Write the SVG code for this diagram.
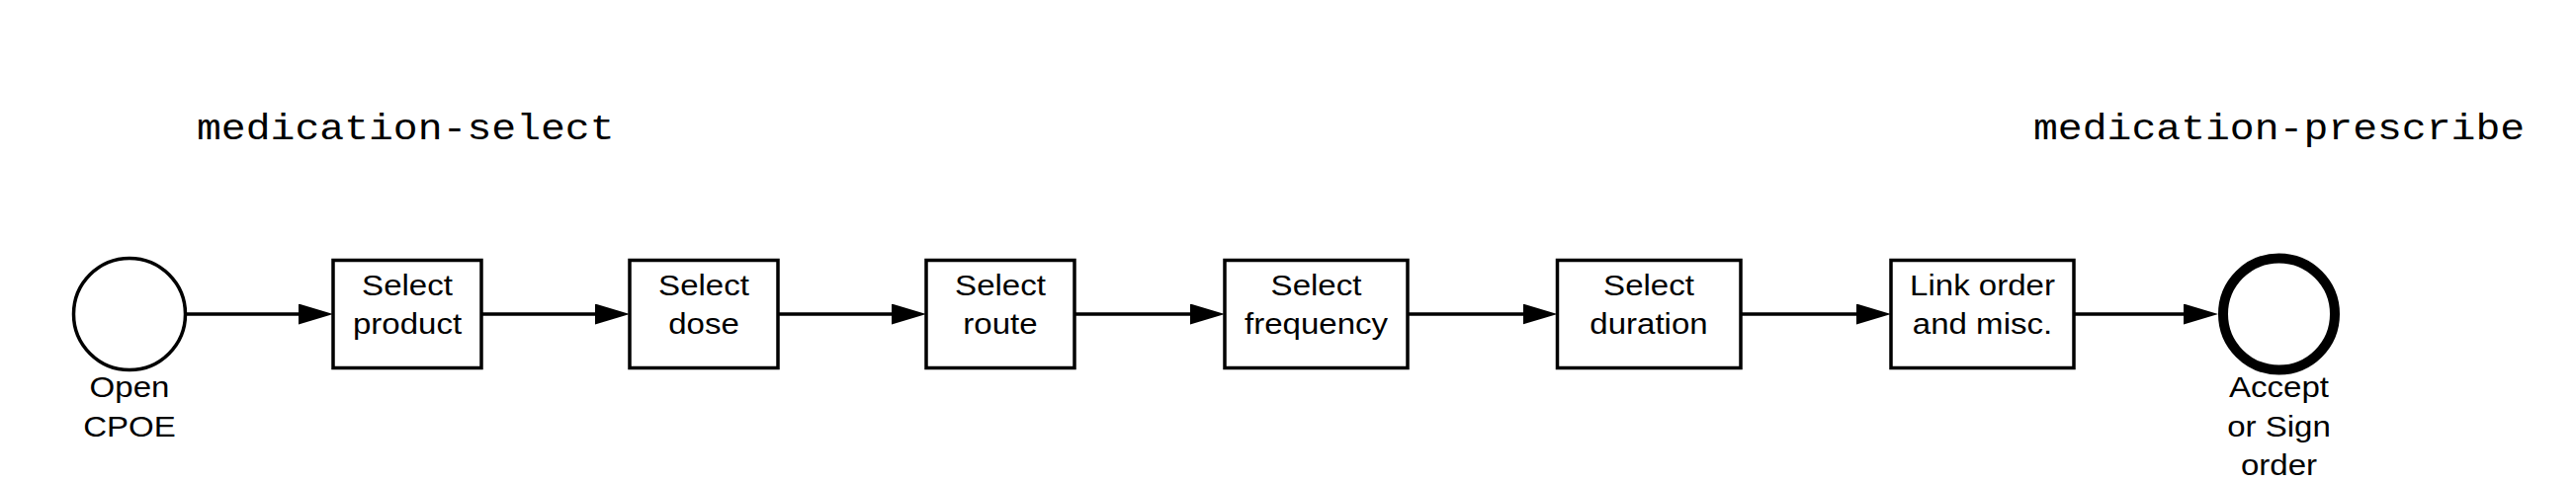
<svg xmlns="http://www.w3.org/2000/svg" width="2606" height="488" viewBox="0 0 2606 488">
<style>
.box{fill:#fff;stroke:#000;stroke-width:3.5}
.ev{fill:#fff;stroke:#000;stroke-width:3.5}
.end{fill:#fff;stroke:#000;stroke-width:10}
.lbl{font-family:"Liberation Sans",Arial,sans-serif;font-size:29.5px;fill:#000;text-anchor:middle}
.ttl{font-family:"Liberation Mono","Courier New",monospace;font-size:37px;fill:#000}
.edge{stroke:#000;stroke-width:3.5;fill:none;marker-end:url(#ah)}
</style>
<defs>
<marker id="ah" markerUnits="userSpaceOnUse" markerWidth="36" markerHeight="22" refX="27" refY="10.5" orient="auto">
<path d="M0,0 L35,10.5 L0,21 Z" fill="#000"/>
</marker>
</defs>
<rect width="2606" height="488" fill="#fff"/>
<g id="titles">
<text class="ttl" transform="translate(199 0) scale(1.12 1)" x="0" y="141">medication-select</text>
<text class="ttl" transform="translate(2057 0) scale(1.12 1)" x="0" y="141">medication-prescribe</text>
</g>
<g id="connectors">
<line class="edge" x1="187" y1="318" x2="329" y2="318"/>
<line class="edge" x1="487" y1="318" x2="629" y2="318"/>
<line class="edge" x1="787" y1="318" x2="929" y2="318"/>
<line class="edge" x1="1087" y1="318" x2="1231" y2="318"/>
<line class="edge" x1="1424" y1="318" x2="1567.5" y2="318"/>
<line class="edge" x1="1761" y1="318" x2="1905" y2="318"/>
<line class="edge" x1="2098" y1="318" x2="2236" y2="318"/>
</g>
<g id="open-cpoe">
<circle class="ev" cx="131" cy="318" r="56.5"/>
<text class="lbl" transform="translate(131 0) scale(1.12 1)" x="0" y="402.5">Open</text>
<text class="lbl" transform="translate(131 0) scale(1.12 1)" x="0" y="442.5">CPOE</text>
</g>
<g id="select-product">
<rect class="box" x="337" y="263.5" width="150" height="109"/>
<text class="lbl" transform="translate(412 0) scale(1.12 1)" x="0" y="299.5">Select</text>
<text class="lbl" transform="translate(412 0) scale(1.12 1)" x="0" y="338.5">product</text>
</g>
<g id="select-dose">
<rect class="box" x="637" y="263.5" width="150" height="109"/>
<text class="lbl" transform="translate(712 0) scale(1.12 1)" x="0" y="299.5">Select</text>
<text class="lbl" transform="translate(712 0) scale(1.12 1)" x="0" y="338.5">dose</text>
</g>
<g id="select-route">
<rect class="box" x="937" y="263.5" width="150" height="109"/>
<text class="lbl" transform="translate(1012 0) scale(1.12 1)" x="0" y="299.5">Select</text>
<text class="lbl" transform="translate(1012 0) scale(1.12 1)" x="0" y="338.5">route</text>
</g>
<g id="select-frequency">
<rect class="box" x="1239" y="263.5" width="185" height="109"/>
<text class="lbl" transform="translate(1331.5 0) scale(1.12 1)" x="0" y="299.5">Select</text>
<text class="lbl" transform="translate(1331.5 0) scale(1.12 1)" x="0" y="338.5">frequency</text>
</g>
<g id="select-duration">
<rect class="box" x="1575.5" y="263.5" width="185.5" height="109"/>
<text class="lbl" transform="translate(1668 0) scale(1.12 1)" x="0" y="299.5">Select</text>
<text class="lbl" transform="translate(1668 0) scale(1.12 1)" x="0" y="338.5">duration</text>
</g>
<g id="link-order">
<rect class="box" x="1913" y="263.5" width="185" height="109"/>
<text class="lbl" transform="translate(2005.5 0) scale(1.12 1)" x="0" y="299.5">Link order</text>
<text class="lbl" transform="translate(2005.5 0) scale(1.12 1)" x="0" y="338.5">and misc.</text>
</g>
<g id="accept-sign">
<circle class="end" cx="2305.5" cy="318" r="56.5"/>
<text class="lbl" transform="translate(2305.5 0) scale(1.12 1)" x="0" y="402">Accept</text>
<text class="lbl" transform="translate(2305.5 0) scale(1.12 1)" x="0" y="442">or Sign</text>
<text class="lbl" transform="translate(2305.5 0) scale(1.12 1)" x="0" y="481.5">order</text>
</g>
</svg>
